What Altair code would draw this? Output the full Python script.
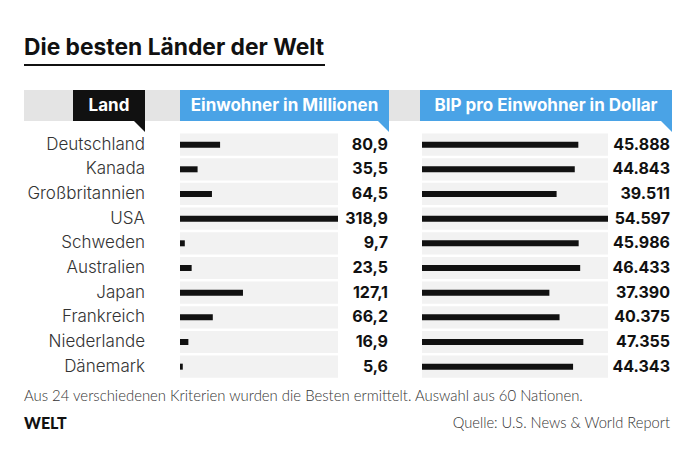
import altair as alt
import pandas as pd

countries = ["Deutschland", "Kanada", "Großbritannien", "USA", "Schweden",
             "Australien", "Japan", "Frankreich", "Niederlande", "Dänemark"]
population = [80.9, 35.5, 64.5, 318.9, 9.7, 23.5, 127.1, 66.2, 16.9, 5.6]
gdp = [45888, 44843, 39511, 54597, 45986, 46433, 37390, 40375, 47355, 44343]

title_text = "Die besten Länder der Welt"
head_land = "Land"
head_pop = "Einwohner in Millionen"
head_bip = "BIP pro Einwohner in Dollar"
note_text = "Aus 24 verschiedenen Kriterien wurden die Besten ermittelt. Auswahl aus 60 Nationen."
brand_text = "WELT"
source_text = "Quelle: U.S. News & World Report"

df = pd.DataFrame({"Land": countries, "pop": population, "bip": gdp})
df["pop_label"] = [f"{v:.1f}".replace(".", ",") for v in population]
df["bip_label"] = [f"{v:,}".replace(",", ".") for v in gdp]

FONT = "Lato"
WIDE = "Inter"
BLUE = "#4aa3e6"
HEAD_GRAY = "#e4e4e4"
ROW_GRAY = "#f2f2f2"

yenc = alt.Y("Land:N", sort=countries, axis=None,
             scale=alt.Scale(range=[132.3, 379], paddingInner=0.1, paddingOuter=0.05))

base = alt.Chart(df)
one = alt.Chart(pd.DataFrame({"a": [0]}))


def box(x, x2, y, y2, color):
    return one.mark_rect(color=color).encode(
        x=alt.value(x), x2=alt.value(x2), y=alt.value(y), y2=alt.value(y2))


def tail(cx, cy, side, color):
    return one.mark_point(shape="M-1,-1L1,-1L1,1Z", filled=True, size=side * side,
                          color=color, opacity=1, strokeWidth=0).encode(
        x=alt.value(cx), y=alt.value(cy))


def label(text, x, y, size, weight="normal", color="#111", align="left",
          baseline="middle", font=FONT):
    return one.mark_text(text=text, font=font, fontSize=size, fontWeight=weight,
                         color=color, align=align, baseline=baseline).encode(
        x=alt.value(x), y=alt.value(y))


layers = [
    # title + underline
    label(title_text, 24, 55, 22.8, "bold", "#111", baseline="alphabetic", font=WIDE),
    box(24, 325, 64, 66, "#111"),
    # header band
    box(24, 420, 90, 121, HEAD_GRAY),
    box(73, 145, 90, 121, "#111"),
    tail(139.5, 126.5, 11, "#111"),
    box(180, 389, 90, 121, BLUE),
    tail(383.5, 126.5, 11, BLUE),
    box(420, 672, 90, 121, BLUE),
    tail(666.5, 126.5, 11, BLUE),
    label(head_land, 109, 106, 17, "bold", "white", align="center", font=WIDE),
    label(head_pop, 284.5, 106, 17, "bold", "white", align="center", font=WIDE),
    label(head_bip, 546, 106, 17, "bold", "white", align="center", font=WIDE),
    # row backgrounds
    base.mark_rect(color=ROW_GRAY).encode(y=yenc, x=alt.value(180), x2=alt.value(338)),
    base.mark_rect(color=ROW_GRAY).encode(y=yenc, x=alt.value(422), x2=alt.value(608)),
    # bars
    base.mark_bar(color="#111", size=6).encode(
        x=alt.X("pop:Q", axis=None, scale=alt.Scale(range=[180, 338], nice=False, zero=True)),
        y=yenc),
    base.mark_bar(color="#111", size=6).encode(
        x=alt.X("bip:Q", axis=None, scale=alt.Scale(range=[422, 608], nice=False, zero=True)),
        y=yenc),
    # texts
    base.mark_text(align="right", font=WIDE, fontSize=17, fontWeight=300, color="#333").encode(
        y=yenc, x=alt.value(145), text="Land:N"),
    base.mark_text(align="right", font=WIDE, fontSize=16, fontWeight="bold", color="#111").encode(
        y=yenc, x=alt.value(388), text="pop_label:N"),
    base.mark_text(align="right", font=WIDE, fontSize=16, fontWeight="bold", color="#111").encode(
        y=yenc, x=alt.value(670), text="bip_label:N"),
    # footer
    label(note_text, 24, 397, 14.9, 300, "#333"),
    label(brand_text, 24, 424, 16, 900, "#111"),
    label(source_text, 670, 424, 14.7, 300, "#333", align="right"),
]

chart = alt.layer(*layers).resolve_scale(x="independent").properties(
    width=700, height=467, autosize=alt.AutoSizeParams(type="none"), padding=0,
    background="white"
).configure_view(strokeWidth=0)

chart.save("out.html", embed_options={"renderer": "svg", "actions": False})
